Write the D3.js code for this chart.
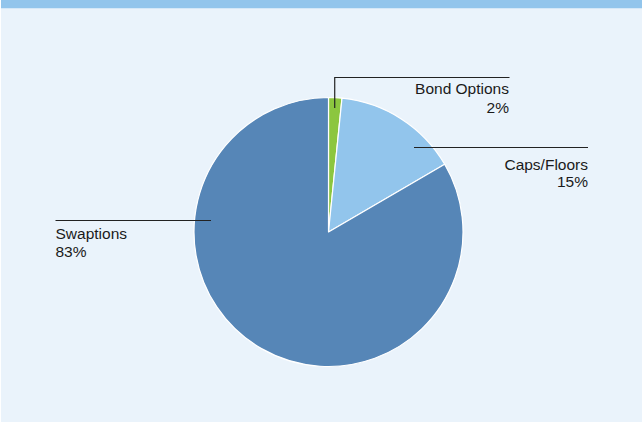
<!DOCTYPE html>
<html>
<head>
<meta charset="utf-8">
<script src="https://cdn.jsdelivr.net/npm/d3@7"></script>
<style>
  html, body { margin: 0; padding: 0; background: #ffffff; }
  svg { display: block; }
  text { font-family: "Liberation Sans", Arial, Helvetica, sans-serif; font-size: 15.5px; fill: #1a1a1a; }
</style>
</head>
<body>
<div id="chart"></div>
<script>
// chart data
var categories = ["Bond Options", "Caps/Floors", "Swaptions"];
var shares = [1.6, 15.0, 83.4];
var shareLabels = ["2%", "15%", "83%"];
var colors = ["#8cc63f", "#92c5ec", "#5686b7"];

var width = 644;
var height = 423;
var cx = 328.5, cy = 232, radius = 134.5;

var svg = d3.select("#chart").append("svg")
    .attr("width", width)
    .attr("height", height);

// panel + top band
svg.append("rect").attr("x", 1).attr("y", 0).attr("width", 641).attr("height", 422).attr("fill", "#eaf3fb");
svg.append("rect").attr("x", 1).attr("y", 0).attr("width", 641).attr("height", 8).attr("fill", "#92c5ec");
svg.append("rect").attr("x", 1).attr("y", 8).attr("width", 641).attr("height", 1).attr("fill", "#d4e8f8");

var data = categories.map(function (c, i) {
    return { name: c, value: shares[i], label: shareLabels[i], color: colors[i] };
});

var pie = d3.pie().value(d => d.value).sort(null);
var arc = d3.arc().innerRadius(0).outerRadius(radius);
var arcs = pie(data);

var g = svg.append("g").attr("transform", "translate(" + cx + "," + cy + ")");

g.selectAll("path")
    .data(arcs)
    .enter().append("path")
    .attr("d", arc)
    .attr("fill", d => d.data.color)
    .attr("stroke", "#ffffff")
    .attr("stroke-width", 1.2)
    .attr("stroke-linejoin", "round");

// leader lines + labels (anchored on the slice via the arc geometry)
var inner = d3.arc().innerRadius(radius * 0.92).outerRadius(radius * 0.92);
var lineColor = "#222";

// Bond Options: vertical up from inside the slice, then across to the right
var pB = inner.centroid(arcs[0]);
var bx = cx + pB[0];
svg.append("path")
    .attr("d", "M" + bx + "," + (cy - 124) + "V77.5H509.5")
    .attr("fill", "none").attr("stroke", lineColor).attr("stroke-width", 1.2);
svg.append("text").attr("x", 509).attr("y", 94).attr("text-anchor", "end").text(data[0].name);
svg.append("text").attr("x", 509).attr("y", 113).attr("text-anchor", "end").text(data[0].label);

// Caps/Floors
svg.append("line")
    .attr("x1", 414).attr("x2", 588).attr("y1", 147.5).attr("y2", 147.5)
    .attr("stroke", lineColor).attr("stroke-width", 1.2);
svg.append("text").attr("x", 588).attr("y", 169.5).attr("text-anchor", "end").text(data[1].name);
svg.append("text").attr("x", 588).attr("y", 187).attr("text-anchor", "end").text(data[1].label);

// Swaptions
svg.append("line")
    .attr("x1", 55.5).attr("x2", 211).attr("y1", 220.5).attr("y2", 220.5)
    .attr("stroke", lineColor).attr("stroke-width", 1.2);
svg.append("text").attr("x", 55.5).attr("y", 239).attr("text-anchor", "start").text(data[2].name);
svg.append("text").attr("x", 55.5).attr("y", 257).attr("text-anchor", "start").text(data[2].label);
</script>
</body>
</html>
